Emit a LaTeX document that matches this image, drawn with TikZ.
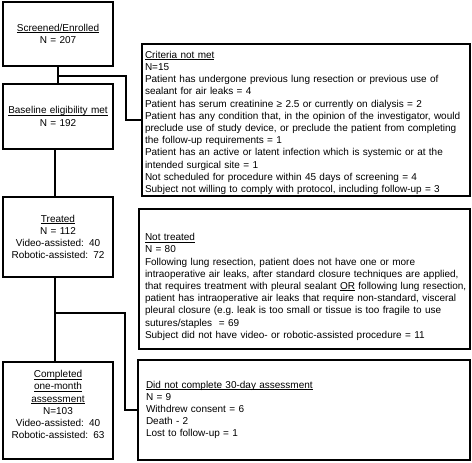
\documentclass[tikz,border=0pt]{standalone}
\usepackage{fontspec}
\setmainfont{Liberation Sans}
\newcommand{\uln}[1]{\leavevmode\setbox0\hbox{#1}\rlap{\rule[-1.5pt]{\wd0}{0.6pt}}\box0\relax}
\begin{document}
\begin{tikzpicture}[x=1pt,y=-1pt,
  box/.style={draw, line width=1.7pt, anchor=north west, inner ysep=0pt, outer sep=0pt,
    font=\fontsize{10}{12.2}\selectfont},
  lbox/.style={box, align=center, inner xsep=2pt},
  rbox/.style={box, align=left},
  conn/.style={line width=1.3pt}]
\fill[white] (0,0) rectangle (472,463);
\useasboundingbox (0,0) rectangle (472,463);
% left column
\node[lbox, minimum width=110pt, minimum height=64pt, text width=106pt] (scr) at (3,2)
  {\uln{Screened/Enrolled}\\N = 207};
\node[lbox, minimum width=110pt, minimum height=65pt, text width=106pt] (base) at (3,84)
  {\uln{Baseline eligibility met}\\N = 192};
\node[lbox, minimum width=110pt, minimum height=80pt, text width=106pt] (trt) at (3,197)
  {\uln{Treated}\\N = 112\\Video-assisted: 40\\Robotic-assisted: 72};
\node[lbox, minimum width=110pt, minimum height=97pt, text width=106pt] (comp) at (3,362)
  {\uln{Completed}\\\uln{one-month}\\\uln{assessment}\\N=103\\Video-assisted: 40\\Robotic-assisted: 63\rule[-12pt]{0pt}{12pt}};
% right column
\node[rbox, minimum width=328pt, minimum height=152pt, text width=322pt, inner xsep=3pt] (crit) at (142,44)
  {\rule{0pt}{13pt}\uln{Criteria not met}\\
N=15\\
Patient has undergone previous lung resection or previous use of\\
sealant for air leaks = 4\\
Patient has serum creatinine ≥ 2.5 or currently on dialysis = 2\\
\mbox{Patient has any condition that, in the opinion of the investigator, would}\\
preclude use of study device, or preclude the patient from completing\\
the follow-up requirements = 1\\
Patient has an active or latent infection which is systemic or at the\\
intended surgical site = 1\\
Not scheduled for procedure within 45 days of screening = 4\\
Subject not willing to comply with protocol, including follow-up = 3};
\node[rbox, minimum width=331pt, minimum height=140pt, text width=319pt, inner xsep=6pt] (nott) at (139,209)
  {\rule{0pt}{23pt}\uln{Not treated}\\
N = 80\\
Following lung resection, patient does not have one or more\\
\mbox{intraoperative air leaks, after standard closure techniques are applied,}\\
\mbox{that requires treatment with pleural sealant \uln{OR} following lung resection,}\\
\mbox{patient has intraoperative air leaks that require non-standard, visceral}\\
\mbox{pleural closure (e.g.\ leak is too small or tissue is too fragile to use}\\
sutures/staples\ \ = 69\\
Subject did not have video- or robotic-assisted procedure = 11};
\node[rbox, minimum width=332pt, minimum height=100pt, text width=316pt, inner xsep=8pt] (dnc) at (138,360)
  {\uln{Did not complete 30-day assessment}\\
N = 9\\
Withdrew consent = 6\\
Death - 2\\
Lost to follow-up = 1};
% connectors
\coordinate (b1) at (58,76);
\coordinate (j1) at (126,76);
\coordinate (l2) at (55,0);
\coordinate (b2) at (55,313);
\coordinate (j2) at (125,313);
\draw[conn] (scr.south) -- (base.north);
\draw[conn] (b1) -- (j1) |- (crit.west);
\draw[conn] (base.south -| l2) -- (trt.north -| l2);
\draw[conn] (trt.south -| l2) -- (comp.north -| l2);
\draw[conn] (b2) -- (j2) |- (dnc.west);
\end{tikzpicture}
\end{document}
